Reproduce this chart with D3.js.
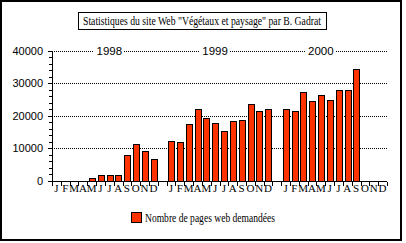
<!DOCTYPE html>
<html>
<head>
<meta charset="utf-8">
<script src="https://cdn.jsdelivr.net/npm/d3@7"></script>
<style>
    body { margin: 0; background: #fff; }
    svg { display: block; }
    text { fill: #000; }
    line, rect { shape-rendering: crispEdges; }
</style>
</head>
<body>
<svg id="chart" width="406" height="243"></svg>
<script>
// data
const years = ['1998', '1999', '2000'];
const months = ['J', 'F', 'M', 'A', 'M', 'J', 'J', 'A', 'S', 'O', 'N', 'D'];
const pages1998 = [0, 0, 0, 0, 900, 1800, 1800, 1800, 7900, 11300, 9300, 6700];
const pages1999 = [12200, 11900, 17400, 22000, 19200, 17700, 15200, 18300, 18600, 23500, 21400, 22000];
const pages2000 = [22000, 21400, 27200, 24400, 26300, 24700, 27800, 27800, 34200, 0, 0, 0];
const yTicks = [0, 10000, 20000, 30000, 40000];
const title = 'Statistiques du site Web "Végétaux et paysage" par B. Gadrat';
const legendLabel = 'Nombre de pages web demandées';

const series = [pages1998, pages1999, pages2000];
const barColor = '#ff3300';

const svg = d3.select('#chart');

// outer frame
svg.append('rect')
    .attr('x', 1).attr('y', 1)
    .attr('width', 400).attr('height', 239)
    .attr('fill', 'none').attr('stroke', '#000').attr('stroke-width', 1.5);

// title box
svg.append('rect')
    .attr('x', 78.5).attr('y', 12.5)
    .attr('width', 248).attr('height', 17)
    .attr('fill', '#fff').attr('stroke', '#000');
svg.append('text')
    .attr('x', 202).attr('y', 25)
    .attr('text-anchor', 'middle')
    .attr('font-family', 'Liberation Serif, serif')
    .attr('font-size', 12)
    .attr('textLength', 238).attr('lengthAdjust', 'spacingAndGlyphs')
    .text(title);

// slots: 12 months per year, one empty slot between years
const slots = [];
years.forEach((yr, i) => {
    if (i > 0) slots.push('gap' + i);
    months.forEach((m, j) => slots.push(yr + '-' + j));
});

const pLeft = 52, pRight = 387, pBottom = 181, pTop = 50.5;

const x = d3.scaleBand().domain(slots).range([pLeft, pRight]).paddingInner(0.37).paddingOuter(0.185);
const step = x.step();
const y = d3.scaleLinear().domain([0, 40000]).range([pBottom, pTop]);

// dotted gridlines, drawn as 1px dots
const dots = [];
yTicks.filter(d => d > 0).forEach(d => {
    for (let px = pLeft + 2; px < pRight; px += 2) dots.push({ x: px, y: Math.round(y(d)) });
});
svg.append('g').attr('class', 'grid').selectAll('rect')
    .data(dots)
    .join('rect')
    .attr('x', d => d.x).attr('y', d => d.y)
    .attr('width', 1).attr('height', 1)
    .attr('fill', '#000');

// year labels on the top gridline
const yearPos = [6, 5, 4];
const yl = svg.append('g');
years.forEach((yr, i) => {
    const cx = x(yr + '-' + yearPos[i]) + x.bandwidth() / 2;
    yl.append('rect')
        .attr('x', cx - 15).attr('y', pTop - 7)
        .attr('width', 30).attr('height', 12)
        .attr('fill', '#fff');
    yl.append('text')
        .attr('x', cx).attr('y', pTop + 4)
        .attr('text-anchor', 'middle')
        .attr('font-family', 'Liberation Sans, sans-serif')
        .attr('font-size', 11.5)
        .text(yr);
});

// bars
const barData = [];
years.forEach((yr, i) => {
    series[i].forEach((v, j) => { if (v > 0) barData.push({ key: yr + '-' + j, v: v }); });
});
svg.append('g').attr('class', 'bars').selectAll('rect')
    .data(barData)
    .join('rect')
    .attr('x', d => Math.round(x(d.key)) + 0.5)
    .attr('y', d => Math.round(y(d.v)) + 0.5)
    .attr('width', Math.round(x.bandwidth()))
    .attr('height', d => pBottom - Math.round(y(d.v)))
    .attr('fill', barColor)
    .attr('stroke', '#000');

// y axis with minor ticks
const yAxis = svg.append('g').attr('transform', `translate(${pLeft},0)`);
yAxis.append('rect')
    .attr('x', 0).attr('y', Math.round(pTop))
    .attr('width', 1).attr('height', pBottom - Math.round(pTop) + 1)
    .attr('fill', '#000');
yAxis.selectAll('.ytick')
    .data(d3.range(0, 40001, 2000))
    .join('rect')
    .attr('class', 'ytick')
    .attr('x', d => d % 10000 === 0 ? -4 : -3)
    .attr('y', d => Math.round(y(d)))
    .attr('width', d => d % 10000 === 0 ? 4 : 3).attr('height', 1)
    .attr('fill', '#000');
yAxis.selectAll('text')
    .data(yTicks)
    .join('text')
    .attr('x', -9).attr('y', d => y(d) + 4)
    .attr('text-anchor', 'end')
    .attr('font-family', 'Liberation Sans, sans-serif')
    .attr('font-size', 11)
    .text(d => d);

// x axis
const xAxis = svg.append('g').attr('transform', `translate(0,${pBottom + 0.5})`);
xAxis.append('line').attr('x1', pLeft).attr('x2', pRight).attr('stroke', '#000');
const tickX = [];
years.forEach(yr => {
    const x0 = x(yr + '-0') - (step - x.bandwidth()) / 2;
    d3.range(13).forEach(k => tickX.push(x0 + k * step));
});
xAxis.selectAll('.xtick')
    .data(tickX)
    .join('line')
    .attr('class', 'xtick')
    .attr('x1', d => Math.round(d) + 0.5).attr('x2', d => Math.round(d) + 0.5)
    .attr('y1', 0).attr('y2', 4)
    .attr('stroke', '#000');
const monthData = [];
years.forEach(yr => months.forEach((m, j) => monthData.push({ key: yr + '-' + j, m: m })));
xAxis.selectAll('text')
    .data(monthData)
    .join('text')
    .attr('x', d => x(d.key) + x.bandwidth() / 2)
    .attr('y', 10)
    .attr('text-anchor', 'middle')
    .attr('font-family', 'Liberation Serif, serif')
    .attr('font-size', 11)
    .text(d => d.m);

// legend
const lg = svg.append('g');
lg.append('rect')
    .attr('x', 131.5).attr('y', 212.5)
    .attr('width', 10).attr('height', 10)
    .attr('fill', barColor).attr('stroke', '#000');
lg.append('text')
    .attr('x', 145).attr('y', 222)
    .attr('font-family', 'Liberation Serif, serif')
    .attr('font-size', 12)
    .attr('textLength', 130).attr('lengthAdjust', 'spacingAndGlyphs')
    .text(legendLabel);
</script>
</body>
</html>
